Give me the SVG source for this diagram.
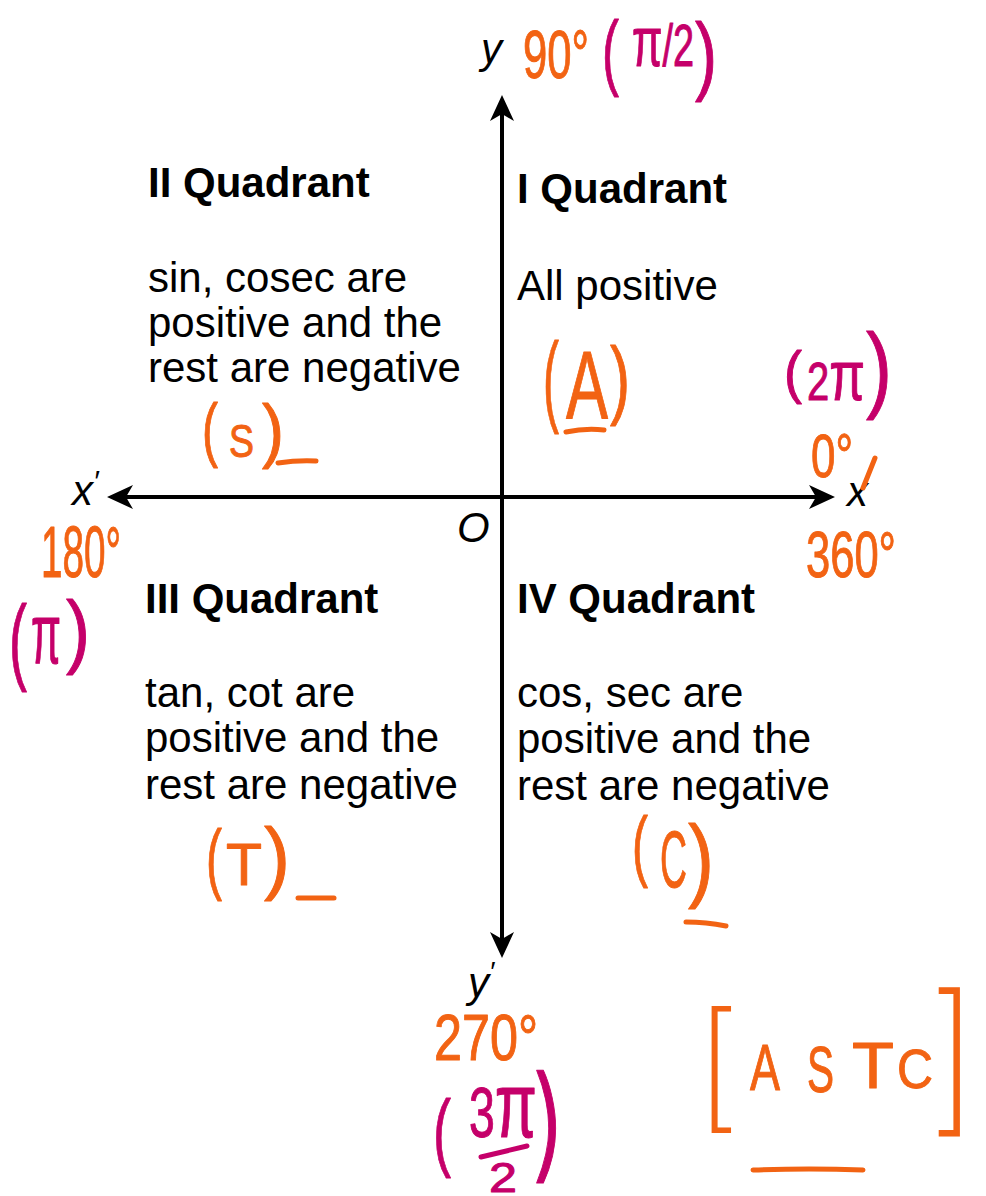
<svg xmlns="http://www.w3.org/2000/svg" width="986" height="1196" viewBox="0 0 986 1196">
<style>
.q{font-family:"Liberation Sans",Arial,sans-serif;font-size:42px;font-weight:bold;fill:#000}
.t{font-family:"Liberation Sans",Arial,sans-serif;font-size:42px;fill:#000}
.ax{font-family:"Liberation Sans",Arial,sans-serif;font-style:italic;font-size:42px;fill:#000}
.o{font-family:"Liberation Sans",Arial,sans-serif;fill:#F26313;stroke:#F26313;stroke-width:1;stroke-linejoin:round}
.m{font-family:"Liberation Sans",Arial,sans-serif;fill:#C5006A;stroke:#C5006A;stroke-width:1;stroke-linejoin:round}
.thin{font-family:Inter,"Open Sans","Liberation Sans",sans-serif;font-weight:200;stroke:none}
.mid{font-family:Inter,"Open Sans","Liberation Sans",sans-serif;font-weight:300}
.ou{fill:none;stroke:#F26313;stroke-width:5;stroke-linecap:round}
.mu{fill:none;stroke:#C5006A;stroke-width:5;stroke-linecap:round}
.axis{stroke:#000;stroke-width:4;fill:none}
</style>
<defs>
<marker id="arr" viewBox="0 0 26 24" refX="18" refY="12" markerWidth="26" markerHeight="24" markerUnits="userSpaceOnUse" orient="auto-start-reverse">
<path d="M0,0 L26,12 L0,24 L7,12 Z" fill="#000"/>
</marker>
</defs>
<rect width="986" height="1196" fill="#fff"/>

<g id="connectors">
<line class="axis" x1="502" y1="950" x2="502" y2="103" marker-start="url(#arr)" marker-end="url(#arr)"/>
<line class="axis" x1="115" y1="497" x2="827" y2="497" marker-start="url(#arr)" marker-end="url(#arr)"/>
</g>

<g id="axis-labels">
<text class="ax" x="481" y="63" font-size="38">y</text>
<text class="ax" x="72" y="505">x<tspan font-size="30" dy="-14">′</tspan></text>
<text class="ax" x="847" y="506">x</text>
<text class="ax" x="457" y="542" font-size="44">O</text>
<text class="ax" x="468" y="997" font-size="38">y<tspan font-size="28" dy="-16">′</tspan></text>
</g>

<g id="quadrant-1">
<text class="q" x="517" y="203">I Quadrant</text>
<text class="t" x="517" y="300">All positive</text>
</g>
<g id="quadrant-2">
<text class="q" x="148" y="197">II Quadrant</text>
<text class="t" x="148" y="292">sin, cosec are</text>
<text class="t" x="148" y="337">positive and the</text>
<text class="t" x="148" y="382">rest are negative</text>
</g>
<g id="quadrant-3">
<text class="q" x="145" y="613">III Quadrant</text>
<text class="t" x="145" y="707">tan, cot are</text>
<text class="t" x="145" y="752">positive and the</text>
<text class="t" x="145" y="799">rest are negative</text>
</g>
<g id="quadrant-4">
<text class="q" x="517" y="613">IV Quadrant</text>
<text class="t" x="517" y="707">cos, sec are</text>
<text class="t" x="517" y="753">positive and the</text>
<text class="t" x="517" y="800">rest are negative</text>
</g>

<g id="note-90">
<text class="o" x="523" y="78" font-size="68" textLength="66" lengthAdjust="spacingAndGlyphs">90°</text>
<text class="m" x="602" y="80" font-size="84" textLength="17" lengthAdjust="spacingAndGlyphs">(</text>
<text class="m" x="632" y="66" font-size="60" textLength="62" lengthAdjust="spacingAndGlyphs"><tspan font-size="70">π</tspan>/2</text>
<text class="m" x="695" y="84" font-size="88" textLength="22" lengthAdjust="spacingAndGlyphs">)</text>
</g>

<g id="note-A">
<text class="o" x="543" y="413" font-size="100" textLength="16" lengthAdjust="spacingAndGlyphs">(</text>
<text class="o" x="566" y="418" font-size="96" textLength="42" lengthAdjust="spacingAndGlyphs">A</text>
<text class="o" x="610" y="408" font-size="88" textLength="20" lengthAdjust="spacingAndGlyphs">)</text>
<path class="ou" d="M566,432 Q585,428 604,430"/>
</g>

<g id="note-0">
<text class="m" x="784" y="392" font-size="58" textLength="18" lengthAdjust="spacingAndGlyphs">(</text>
<text class="m" x="807" y="400" font-size="54" textLength="58" lengthAdjust="spacingAndGlyphs"><tspan>2</tspan><tspan font-size="70">π</tspan></text>
<text class="m" x="866" y="400" font-size="94" textLength="26" lengthAdjust="spacingAndGlyphs">)</text>
<text class="o" x="811" y="477" font-size="62" textLength="42" lengthAdjust="spacingAndGlyphs">0°</text>
<path class="ou" d="M875,458 L863,488"/>
<text class="o" x="806" y="577" font-size="64" textLength="90" lengthAdjust="spacingAndGlyphs">360°</text>
</g>

<g id="note-180">
<text class="o" x="41" y="577" font-size="72" textLength="80" lengthAdjust="spacingAndGlyphs">180°</text>
<text class="m" x="9" y="672" font-size="94" textLength="18" lengthAdjust="spacingAndGlyphs">(</text>
<text class="m" x="31" y="663" font-size="86" textLength="30" lengthAdjust="spacingAndGlyphs">π</text>
<text class="m" x="66" y="658" font-size="82" textLength="24" lengthAdjust="spacingAndGlyphs">)</text>
</g>

<g id="note-S">
<text class="o" x="202" y="453" font-size="70" textLength="16" lengthAdjust="spacingAndGlyphs">(</text>
<text class="o" x="229" y="457" font-size="46" textLength="25" lengthAdjust="spacingAndGlyphs">S</text>
<text class="o" x="262" y="454" font-size="70" textLength="22" lengthAdjust="spacingAndGlyphs">)</text>
<path class="ou" d="M278,463 Q298,460 316,461"/>
</g>

<g id="note-T">
<text class="o" x="206" y="885" font-size="78" textLength="16" lengthAdjust="spacingAndGlyphs">(</text>
<text class="o" x="226" y="885" font-size="60" textLength="36" lengthAdjust="spacingAndGlyphs">T</text>
<text class="o" x="264" y="884" font-size="80" textLength="26" lengthAdjust="spacingAndGlyphs">)</text>
<path class="ou" d="M298,898 L334,898"/>
</g>

<g id="note-C">
<text class="o" x="632" y="872" font-size="78" textLength="16" lengthAdjust="spacingAndGlyphs">(</text>
<text class="o" x="660" y="887" font-size="80" textLength="27" lengthAdjust="spacingAndGlyphs">C</text>
<text class="o" x="688" y="890" font-size="92" textLength="26" lengthAdjust="spacingAndGlyphs">)</text>
<path class="ou" d="M686,922 Q706,922 726,926"/>
</g>

<g id="note-270">
<text class="o" x="434" y="1060" font-size="64" textLength="104" lengthAdjust="spacingAndGlyphs">270°</text>
<text class="m" x="433" y="1160" font-size="86" textLength="18" lengthAdjust="spacingAndGlyphs">(</text>
<text class="m" x="469" y="1137" font-size="70" textLength="68" lengthAdjust="spacingAndGlyphs">3<tspan font-size="92">π</tspan></text>
<path class="mu" d="M481,1157 L527,1146"/>
<text class="m" x="489" y="1192" font-size="42" textLength="28" lengthAdjust="spacingAndGlyphs">2</text>
<text class="m mid" x="531" y="1166" font-size="124" textLength="36" lengthAdjust="spacingAndGlyphs">)</text>
</g>

<g id="note-ASTC">
<text class="o thin" x="695" y="1114" font-size="140" textLength="46" lengthAdjust="spacingAndGlyphs">[</text>
<text class="o" x="750" y="1090" font-size="64" textLength="30" lengthAdjust="spacingAndGlyphs" stroke-width="0">A</text>
<text class="o" x="807" y="1092" font-size="64" textLength="27" lengthAdjust="spacingAndGlyphs" stroke-width="0">S</text>
<text class="o" x="852" y="1088" font-size="64" textLength="42" lengthAdjust="spacingAndGlyphs" stroke-width="0">T</text>
<text class="o" x="897" y="1088" font-size="56" textLength="36" lengthAdjust="spacingAndGlyphs" stroke-width="0">C</text>
<text class="o thin" x="928" y="1114" font-size="164" textLength="50" lengthAdjust="spacingAndGlyphs">]</text>
<path class="ou" d="M753,1170 Q810,1168 863,1170"/>
</g>
</svg>
